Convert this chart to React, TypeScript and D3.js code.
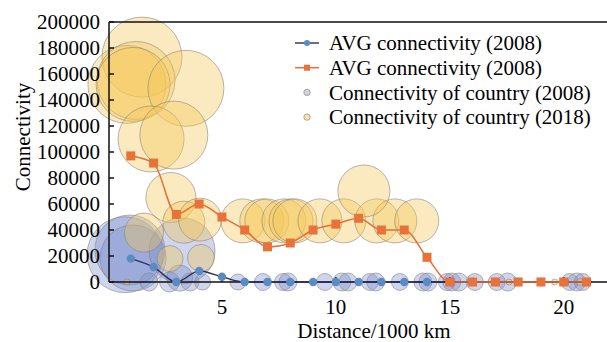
import * as d3 from "d3";
import {useEffect, useRef} from "react";

// distance (1000 km) for the average lines
const distances = [1, 2, 3, 4, 5, 6, 7, 8, 9, 10, 11, 12, 13, 14, 15, 16, 17, 18, 19, 20, 21];
const avg2008 = [18000, 11500, 0, 8500, 4000, 0, 0, 0, 0, 0, 0, 0, 0, 0, 0, 0, 0, 0, 0, 0, 0];
const avg2018 = [97000, 91500, 52000, 60000, 50000, 40000, 27000, 30000, 40000, 44500, 49000, 40000, 40000, 19000, 0, 0, 0, 0, 0, 0, 0];

// countries: [distance, connectivity, size]
const countries2008: [number, number, number][] = [
    [0.75, 21000, 1444], [0.96, 24600, 1225], [1.1, 18500, 1089], [3.25, 24000, 1089],
    [1.8, 0, 81], [2.7, 0, 100], [3.15, 3000, 169], [3.6, 0, 81], [4.15, 0, 64],
    [5.7, 0, 64], [6.8, 0, 72], [7.68, 0, 72], [7.9, 0, 81], [9.52, 0, 72],
    [10.26, 0, 81], [10.53, 0, 81], [11.49, 0, 72], [11.75, 0, 81], [12.81, 0, 72],
    [13.82, 0, 81], [14.04, 0, 81], [14.87, 0, 72], [15.09, 0, 81], [15.4, 0, 81],
    [16.1, 0, 72], [17.06, 0, 72], [17.54, 0, 81], [20.26, 0, 72], [20.57, 0, 81], [20.83, 0, 72]
];
const countries2018: [number, number, number][] = [
    [1.49, 173000, 1600], [0.83, 152000, 1521], [1.23, 155000, 1521], [1.1, 152000, 1369],
    [3.42, 149000, 1444], [1.89, 110000, 1089], [2.89, 113000, 1156], [2.76, 65000, 625],
    [3.33, 46000, 441], [4.04, 48000, 462], [1.58, 38000, 380], [2.72, 18000, 169],
    [4.08, 18500, 182], [0.83, 0, 9],
    [5.92, 47000, 484], [6.75, 47000, 484], [6.97, 47000, 484], [7.72, 47000, 484],
    [8.03, 47000, 484], [8.2, 47000, 484], [9.3, 47000, 484], [10.35, 47000, 484],
    [11.8, 47000, 484], [12.59, 47000, 484], [13.55, 47000, 484], [11.23, 70000, 676],
    [17.6, 0, 9], [19.6, 0, 9], [20.1, 0, 9], [20.7, 0, 12]
];
const yTicks = [0, 20000, 40000, 60000, 80000, 100000, 120000, 140000, 160000, 180000, 200000];
const xTicks = [5, 10, 15, 20];
const legendLabels = ["AVG connectivity (2008)", "AVG connectivity (2008)", "Connectivity of country (2008)", "Connectivity of country (2018)"];

const W = 607, H = 342;
const font = "'Liberation Serif', 'Times New Roman', serif";

const App = () => {
    const svgRef = useRef(null)

    useEffect(() => {
        const svg = d3.select(svgRef.current)
        svg.selectAll("*").remove()

        const x = d3.scaleLinear().domain([0, 21.9]).range([108, 607])
        const y = d3.scaleLinear().domain([0, 200000]).range([282, 22])
        const r = d3.scaleSqrt().domain([0, 1600]).range([0, 40])

        // bubbles
        const drawBubbles = (data, fill) => svg.append("g").selectAll("circle")
            .data(data).join("circle")
            .attr("cx", d => x(d[0])).attr("cy", d => y(d[1])).attr("r", d => r(d[2]))
            .attr("fill", fill).attr("fill-opacity", 0.38)
            .attr("stroke", "#8c837c").attr("stroke-opacity", 0.6).attr("stroke-width", 1)
        drawBubbles(countries2008, "#7f90cc")
        drawBubbles(countries2018, "#f5c95a")

        // axes frame
        const ax = svg.append("g").attr("stroke", "#111").attr("stroke-width", 1.5)
        ax.append("line").attr("x1", 109).attr("x2", W).attr("y1", y(0)).attr("y2", y(0))
        ax.append("line").attr("x1", 109).attr("x2", W).attr("y1", y(200000)).attr("y2", y(200000))
        ax.append("line").attr("x1", 109).attr("x2", 109).attr("y1", y(0)).attr("y2", y(200000))
        ax.selectAll(".yt").data(yTicks).join("line")
            .attr("x1", 109).attr("x2", 114).attr("y1", d => y(d)).attr("y2", d => y(d))
        ax.selectAll(".xt").data(xTicks).join("line")
            .attr("x1", d => x(d)).attr("x2", d => x(d)).attr("y1", y(0)).attr("y2", y(0) - 5)

        svg.append("g").selectAll("text").data(yTicks).join("text")
            .attr("x", 100).attr("y", d => y(d)).attr("dy", "0.35em")
            .attr("text-anchor", "end").attr("font-size", 21).attr("font-family", font)
            .text(d => d)
        svg.append("g").selectAll("text").data(xTicks).join("text")
            .attr("x", d => x(d)).attr("y", 314)
            .attr("text-anchor", "middle").attr("font-size", 21).attr("font-family", font)
            .text(d => d)
        svg.append("text").attr("x", 374).attr("y", 338).attr("text-anchor", "middle")
            .attr("font-size", 21).attr("font-family", font).text("Distance/1000 km")
        svg.append("text").attr("transform", "translate(30,137) rotate(-90)").attr("text-anchor", "middle")
            .attr("font-size", 21).attr("font-family", font).text("Connectivity")

        // average lines
        const line = d3.line<number>().x((d, i) => x(distances[i])).y(d => y(d)).curve(d3.curveMonotoneX)
        svg.append("path").attr("d", line(avg2008)).attr("fill", "none")
            .attr("stroke", "#2b2d5e").attr("stroke-width", 1.4)
        svg.append("g").selectAll("circle").data(avg2008).join("circle")
            .attr("cx", (d, i) => x(distances[i])).attr("cy", d => y(d)).attr("r", 4.2)
            .attr("fill", "#5a8bc3")
        svg.append("path").attr("d", line(avg2018)).attr("fill", "none")
            .attr("stroke", "#e4703a").attr("stroke-width", 1.5)
        svg.append("g").selectAll("rect").data(avg2018).join("rect")
            .attr("x", (d, i) => x(distances[i]) - 4.5).attr("y", d => y(d) - 4.5)
            .attr("width", 9).attr("height", 9).attr("fill", "#e8733a")

        // legend
        const lg = svg.append("g")
        legendLabels.forEach((t, i) => {
            const cy = 43 + i * 24.7
            if (i === 0) {
                lg.append("line").attr("x1", 295).attr("x2", 319).attr("y1", cy).attr("y2", cy).attr("stroke", "#2b2d5e").attr("stroke-width", 1.4)
                lg.append("circle").attr("cx", 307).attr("cy", cy).attr("r", 3).attr("fill", "#5a8bc3")
            } else if (i === 1) {
                lg.append("line").attr("x1", 295).attr("x2", 319).attr("y1", cy).attr("y2", cy).attr("stroke", "#e4703a").attr("stroke-width", 1.5)
                lg.append("rect").attr("x", 304).attr("y", cy - 3).attr("width", 6).attr("height", 6).attr("fill", "#e8733a")
            } else {
                lg.append("circle").attr("cx", 307).attr("cy", cy).attr("r", 3.2)
                    .attr("fill", i === 2 ? "#cdd2ea" : "#fbe3b0").attr("stroke", "#9a928a").attr("stroke-width", 0.8)
            }
            lg.append("text").attr("x", 329).attr("y", cy).attr("dy", "0.35em")
                .attr("font-size", 21).attr("font-family", font).text(t)
        })
    }, []);

    return <svg ref={svgRef} width={W} height={H}
                style={{position: "absolute", left: 0, top: 0, background: "#fff"}}/>
}

export default App
